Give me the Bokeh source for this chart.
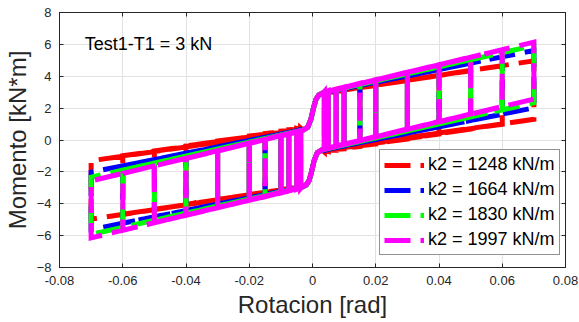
from bokeh.plotting import figure
from bokeh.models import (LinearAxis, FixedTicker, NumeralTickFormatter, Label,
                          Range1d, CustomJSTickFormatter)
from bokeh.embed import file_html
from bokeh.resources import INLINE

# ---- data ----
# peak rotations of the cycles [rad] and number of cycles at each peak
theta_amp = [0.00375, 0.005, 0.0075, 0.01, 0.015, 0.02, 0.03, 0.04, 0.05, 0.06, 0.07]
n_cycles = [6, 6, 6, 4, 2, 2, 2, 2, 1, 1, 1]

# moments [kN*m] at +peak (top / bottom of the vertical) and at -peak
red_top_pos = [2.92, 2.96, 3.03, 3.11, 3.27, 3.42, 3.73, 4.04, 4.35, 4.66, 4.97]
red_bot_pos = [-0.75, -0.72, -0.64, -0.56, -0.41, -0.25, 0.06, 0.37, 0.68, 0.99, 1.30]
red_top_neg = [0.75, 0.72, 0.64, 0.56, 0.41, 0.25, -0.06, -0.37, -0.68, -0.99, -1.30]
red_bot_neg = [-2.92, -2.96, -3.03, -3.11, -3.27, -3.42, -3.73, -4.04, -4.35, -4.66, -4.97]

blue_top_pos = [2.97, 3.02, 3.12, 3.22, 3.42, 3.62, 4.02, 4.42, 4.82, 5.22, 5.62]
blue_bot_pos = [-0.63, -0.58, -0.48, -0.38, -0.18, 0.02, 0.42, 0.82, 1.22, 1.62, 2.02]
blue_top_neg = [0.63, 0.58, 0.48, 0.38, 0.18, -0.02, -0.42, -0.82, -1.22, -1.62, -2.02]
blue_bot_neg = [-2.97, -3.02, -3.12, -3.22, -3.42, -3.62, -4.02, -4.42, -4.82, -5.22, -5.62]

green_top_pos = [3.01, 3.06, 3.17, 3.28, 3.50, 3.72, 4.16, 4.60, 5.04, 5.48, 5.92]
green_bot_pos = [-0.59, -0.53, -0.42, -0.31, -0.09, 0.13, 0.57, 1.01, 1.45, 1.89, 2.33]
green_top_neg = [0.59, 0.53, 0.42, 0.31, 0.09, -0.13, -0.57, -1.01, -1.45, -1.89, -2.33]
green_bot_neg = [-3.01, -3.06, -3.17, -3.28, -3.50, -3.72, -4.16, -4.60, -5.04, -5.48, -5.92]

mag_top_pos = [3.03, 3.09, 3.20, 3.32, 3.56, 3.79, 4.26, 4.73, 5.20, 5.67, 6.14]
mag_bot_pos = [-0.54, -0.49, -0.37, -0.25, -0.02, 0.22, 0.69, 1.16, 1.63, 2.10, 2.57]
mag_top_neg = [0.54, 0.49, 0.37, 0.25, 0.02, -0.22, -0.69, -1.16, -1.63, -2.10, -2.57]
mag_bot_neg = [-3.03, -3.09, -3.20, -3.32, -3.56, -3.79, -4.26, -4.73, -5.20, -5.67, -6.14]

# S-shaped transition near the origin (loading up / loading down)
s_up_x = [-0.003, -0.0015, -0.0005, 0.0003, 0.0011, 0.002, 0.0035]
s_up_y = [0.62, 0.8, 1.3, 2.0, 2.55, 2.82, 2.97]
s_down_x = [0.003, 0.0015, 0.0005, -0.0003, -0.0011, -0.002, -0.0035]
s_down_y = [-0.62, -0.8, -1.3, -2.0, -2.55, -2.82, -2.97]

series_labels = ["k2 = 1248 kN/m", "k2 = 1664 kN/m", "k2 = 1830 kN/m", "k2 = 1997 kN/m"]
series_colors = ["#ff0000", "#0000ff", "#00ff00", "#ff00ff"]
series_data = [
    (red_top_pos, red_bot_pos, red_top_neg, red_bot_neg),
    (blue_top_pos, blue_bot_pos, blue_top_neg, blue_bot_neg),
    (green_top_pos, green_bot_pos, green_top_neg, green_bot_neg),
    (mag_top_pos, mag_bot_pos, mag_top_neg, mag_bot_neg),
]

x_ticks = [-0.08, -0.06, -0.04, -0.02, 0, 0.02, 0.04, 0.06, 0.08]
y_ticks = [-8, -6, -4, -2, 0, 2, 4, 6, 8]


def build_path(top_pos, bot_pos, top_neg, bot_neg):
    xs, ys = list(s_up_x[3:]), list(s_up_y[3:])
    for i, a in enumerate(theta_amp):
        for _ in range(n_cycles[i]):
            xs += [a, a]
            ys += [top_pos[i], bot_pos[i]]
            xs += s_down_x
            ys += s_down_y
            xs += [-a, -a]
            ys += [bot_neg[i], top_neg[i]]
            xs += s_up_x
            ys += s_up_y
    return xs, ys


FONT = "Liberation Sans"
AX = "#262626"

p = figure(width=579, height=322, output_backend="svg", toolbar_location=None,
           x_range=Range1d(-0.08, 0.08), y_range=Range1d(-8, 8),
           min_border_left=53, min_border_right=14, min_border_top=12, min_border_bottom=55)
p.background_fill_color = "white"
p.border_fill_color = "white"
p.outline_line_color = AX
p.outline_line_width = 1

for ax, ticks in ((p.xaxis[0], x_ticks), (p.yaxis[0], y_ticks)):
    ax.ticker = FixedTicker(ticks=ticks)
    ax.major_tick_in = 4
    ax.major_tick_out = 0
    ax.minor_tick_line_color = None
    ax.axis_line_color = AX
    ax.major_tick_line_color = AX
    ax.major_label_text_font = FONT
    ax.major_label_text_font_size = "13px"
    ax.major_label_text_color = AX
    ax.axis_label_text_font = FONT
    ax.axis_label_text_font_size = "24px"
    ax.axis_label_text_font_style = "normal"
    ax.axis_label_text_color = AX

p.xaxis[0].formatter = NumeralTickFormatter(format="0.[00]")
p.xaxis[0].axis_label = "Rotacion [rad]"
p.xaxis[0].major_label_standoff = 8
p.xaxis[0].axis_label_standoff = 3
p.yaxis[0].axis_label = "Momento [kN*m]"
p.yaxis[0].major_label_standoff = 8
p.yaxis[0].axis_label_standoff = 3

for loc, ticks in (("above", x_ticks), ("right", y_ticks)):
    extra = LinearAxis(ticker=FixedTicker(ticks=ticks),
                       formatter=CustomJSTickFormatter(code="return ''"),
                       major_label_text_font_size="0px", major_label_standoff=0,
                       major_tick_in=4, major_tick_out=0,
                       minor_tick_line_color=None, axis_line_color=AX,
                       major_tick_line_color=AX)
    p.add_layout(extra, loc)

p.xgrid.ticker = FixedTicker(ticks=x_ticks)
p.ygrid.ticker = FixedTicker(ticks=y_ticks)
p.xgrid.grid_line_color = "#e2e2e2"
p.ygrid.grid_line_color = "#e2e2e2"

for (tp, bp, tn, bn), col, lab in zip(series_data, series_colors, series_labels):
    xs, ys = build_path(tp, bp, tn, bn)
    p.line(x=xs, y=ys, line_color=col, line_width=5, line_dash="26 10",
           line_join="miter", legend_label=lab)

lg = p.legend[0]
lg.location = (320, 12)
lg.label_text_font = FONT
lg.label_text_font_size = "18px"
lg.label_text_color = "black"
lg.border_line_color = AX
lg.border_line_width = 1
lg.background_fill_color = "white"
lg.background_fill_alpha = 1
lg.glyph_width = 40
lg.glyph_height = 20
lg.label_height = 20
lg.label_standoff = 4
lg.spacing = 4
lg.padding = 4
lg.margin = 0

p.add_layout(Label(x=-0.072, y=6.0, text="Test1-T1 = 3 kN", text_font=FONT,
                   text_font_size="18px", text_color="black",
                   text_baseline="alphabetic"))

open("out.html", "w").write(file_html(p, INLINE))
